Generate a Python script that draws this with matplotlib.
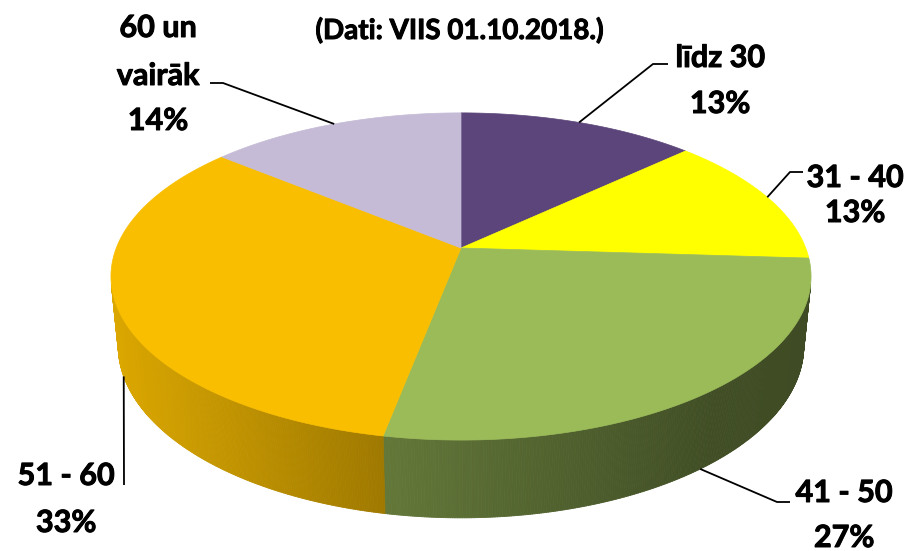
import numpy as np
import matplotlib
matplotlib.use("Agg")
import matplotlib.pyplot as plt
import matplotlib.patheffects as pe
from matplotlib.collections import PolyCollection
from matplotlib.patches import Polygon

# data
groups = ["līdz 30", "31 - 40", "41 - 50", "51 - 60", "60 un vairāk"]
shares = [13, 13, 27, 33, 14]
colors = ["#5B457A", "#FFFF00", "#9BBB59", "#F9BE00", "#C5BBD6"]
source_note = "(Dati: VIIS 01.10.2018.)"

# label layout: text lines, centre x, baselines, leader end + elbow
label_lines = [["līdz 30", "13%"], ["31 - 40", "13%"], ["41 - 50", "27%"],
               ["51 - 60", "33%"], ["60 un", "vairāk", "14%"]]
label_x = [720, 855, 844, 66, 158]
label_base = [[67, 113], [187, 222], [502, 547], [485, 532], [37, 85, 130]]
leader_pts = [[(653, 64), (668, 64)], [(790, 172), (803, 172)],
              [(777, 502), (790, 502)], [(124, 485)], [(223, 83), (210, 83)]]

# 3D view of the pie (pixel space)
CX, CY = 461, 248
ELEV = np.radians(27.4)
DIST = 5.10
FOC = 1758
THICK = 0.228
cos_e, sin_e = np.cos(ELEV), np.sin(ELEV)


def project(a_deg, y3):
    a = np.radians(a_deg)
    X, Z = np.sin(a), np.cos(a)
    yc = y3 * cos_e + Z * sin_e
    depth = DIST + Z * cos_e - y3 * sin_e
    return CX + FOC * X / depth, CY - FOC * yc / depth


def shade(u):
    return np.interp(u, [-350, -80, 250, 350], [0.88, 0.64, 0.42, 0.40])


fig = plt.figure(figsize=(9.16, 5.51), dpi=100)
ax = fig.add_axes([0, 0, 1, 1])
ax.set_xlim(0, 916)
ax.set_ylim(551, 0)
ax.axis("off")

bounds = np.concatenate([[0], np.cumsum(shares)]) / sum(shares) * 360
vis_lo = np.degrees(np.arccos(-1 / (DIST * cos_e)))
vis_hi = 360 - vis_lo

# side walls
polys, fcols = [], []
for i, col in enumerate(colors):
    lo, hi = max(bounds[i], vis_lo), min(bounds[i + 1], vis_hi)
    if hi <= lo:
        continue
    angs = np.linspace(lo, hi, int((hi - lo) * 3) + 2)
    tx, ty = project(angs, 0)
    bx, by = project(angs, -THICK)
    base = np.array(matplotlib.colors.to_rgb(col))
    for k in range(len(angs) - 1):
        polys.append([(tx[k], ty[k]), (tx[k + 1], ty[k + 1]),
                      (bx[k + 1], by[k + 1]), (bx[k], by[k])])
        f = shade((tx[k] + tx[k + 1]) / 2 - CX)
        fcols.append(tuple(base * f))
ax.add_collection(PolyCollection(polys, facecolors=fcols, edgecolors=fcols, linewidths=0.6))

# top faces
for i, col in enumerate(colors):
    angs = np.linspace(bounds[i], bounds[i + 1], 200)
    xs, ys = project(angs, 0)
    pts = [(CX, CY)] + list(zip(xs, ys))
    ax.add_patch(Polygon(pts, closed=True, facecolor=col, edgecolor=col, linewidth=0.5))

# labels and leader lines
font = dict(family="Lato", weight="bold", color="black",
            path_effects=[pe.withStroke(linewidth=0.7, foreground="black")])
for i in range(len(groups)):
    mid = (bounds[i] + bounds[i + 1]) / 2
    front = vis_lo < mid < vis_hi
    axx, ayy = project(mid, -THICK if front else 0)
    path = [(axx, ayy)] + leader_pts[i]
    ax.plot([p[0] for p in path], [p[1] for p in path], color="black", lw=1.3,
            solid_capstyle="butt")
    for line, yb in zip(label_lines[i], label_base[i]):
        ax.text(label_x[i], yb, line, ha="center", va="baseline", fontsize=22, **font)

ax.text(460, 39, source_note, ha="center", va="baseline", fontsize=20, **font)

fig.savefig("out.png", dpi=100)
